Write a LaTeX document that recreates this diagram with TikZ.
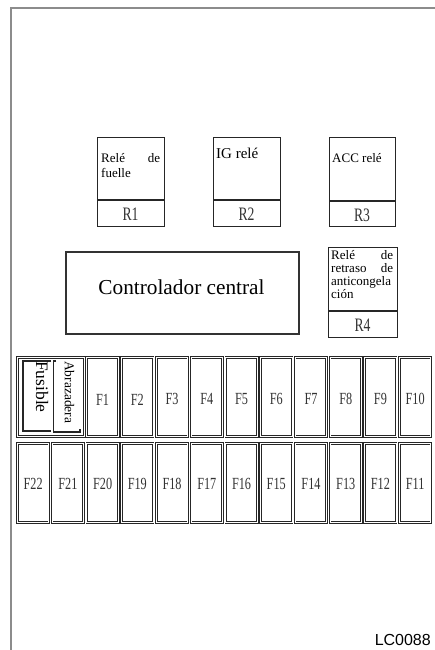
\documentclass[tikz,border=0pt]{standalone}
\usepackage{fontspec}
\usetikzlibrary{calc}
\setmainfont{Liberation Serif}
\newfontfamily\condfont[FakeStretch=0.72]{Liberation Serif}
\newfontfamily\lcfont{Liberation Sans}
\begin{document}
\begin{tikzpicture}[x=1pt,y=-1pt,
  frame/.style={draw=black!45,line width=2pt},
  relaybox/.style={draw=black!85,line width=1.4pt,rectangle,inner sep=0pt,anchor=north west},
  fusebox/.style={draw=black!85,line width=0.8pt,double=white,double distance=0.9pt,rectangle,inner sep=0pt,anchor=north west,minimum width=31.5pt,minimum height=79pt},
  rlabel/.style={font=\condfont\fontsize{19}{19}\selectfont,inner sep=0pt,text=black!80},
  flabel/.style={font=\condfont\fontsize{17}{17}\selectfont,inner sep=0pt,text=black!80},
  rtext/.style={font=\fontsize{13}{13}\selectfont,inner sep=0pt,anchor=base west},
  bracket/.style={draw=black!85,line width=1.1pt}]
\useasboundingbox (0,0) rectangle (435,650);
\fill[white] (0,0) rectangle (435,650);
% outer frame
\coordinate (ftr) at (435,8.5);
\coordinate (ftl) at (11,8.5);
\coordinate (fbl) at (11,650);
\draw[frame] (ftr) -- (ftl) -- (fbl);

% relays
\node[relaybox,minimum width=67pt,minimum height=89pt] (r1) at (97,137) {};
\node[relaybox,minimum width=67pt,minimum height=89pt] (r2) at (213,137) {};
\node[relaybox,minimum width=66pt,minimum height=89pt] (r3) at (329,137) {};
\node[relaybox,minimum width=69pt,minimum height=90pt] (r4) at (328,247) {};
\coordinate (d1a) at (97,200); \coordinate (d1b) at (164,200);
\coordinate (d2a) at (213,200); \coordinate (d2b) at (280,200);
\coordinate (d3a) at (329,201); \coordinate (d3b) at (395,201);
\coordinate (d4a) at (328,311); \coordinate (d4b) at (397,311);
\draw[black!85,line width=1.4pt] (d1a) -- (d1b);
\draw[black!85,line width=1.4pt] (d2a) -- (d2b);
\draw[black!85,line width=1.8pt] (d3a) -- (d3b);
\draw[black!85,line width=1.4pt] (d4a) -- (d4b);

\node[rlabel] (l1) at (130.5,214) {R1};
\node[rlabel] (l2) at (246.5,214) {R2};
\node[rlabel] (l3) at (362,215) {R3};
\node[rlabel] (l4) at (362.5,325) {R4};

\node[rtext] (t1a) at (101,162.3) {\makebox[59pt][s]{Relé de}};
\node[rtext] (t1b) at (101,177.7) {fuelle};
\node[rtext,font=\fontsize{15}{15}\selectfont] (t2) at (216,158) {IG relé};
\node[rtext] (t3) at (332,162) {ACC relé};
\node[rtext] (t4a) at (331,259) {\makebox[62pt][s]{Relé de}};
\node[rtext] (t4b) at (331,272) {\makebox[62pt][s]{retraso de}};
\node[rtext] (t4c) at (331,285.5) {\makebox[62pt][s]{anticongela}};
\node[rtext] (t4d) at (331,298) {ción};

% central controller
\node[relaybox,draw=black!80,line width=1.6pt,minimum width=233pt,minimum height=82pt] (cc) at (65,251) {};
\node[inner sep=0pt,font=\fontsize{21.3}{21.3}\selectfont] (cct) at (181.5,287) {Controlador central};

% fuse row 1
\node[fusebox,minimum width=67pt] (fus) at (17,357) {};
\foreach \i in {1,...,10}{
  \pgfmathsetmacro{\xx}{17+34.73*(\i+1)}
  \node[fusebox] (f\i) at (\xx,357) {};
  \node[flabel] (fl\i) at ($(f\i.center)+(0,2.5)$) {F\i};
}
% fuse row 2
\foreach \i in {11,...,22}{
  \pgfmathsetmacro{\xx}{17+34.73*(22-\i)}
  \node[fusebox] (f\i) at (\xx,443) {};
  \node[flabel] (fl\i) at ($(f\i.center)+(0,1)$) {F\i};
}

% Fusible / Abrazadera
\coordinate (b1a) at (51,361); \coordinate (b1b) at (23,361);
\coordinate (b1c) at (23,431); \coordinate (b1d) at (51,431);
\draw[bracket] (b1a) -- (b1b) -- (b1c) -- (b1d);
\coordinate (b2a) at (56,361); \coordinate (b2b) at (53.5,361);
\coordinate (b2c) at (53.5,432); \coordinate (b2d) at (80,432); \coordinate (b2e) at (80,429);
\draw[bracket] (b2a) -- (b2b) -- (b2c) -- (b2d) -- (b2e);
\node[inner sep=0pt,rotate=-90,anchor=west,font=\fontsize{17.5}{17.5}\selectfont] (fust) at (42,361) {Fusible};
\node[inner sep=0pt,rotate=-90,anchor=west,font=\fontsize{13.5}{13.5}\selectfont] (abrt) at (69.5,361) {Abrazadera};

% code
\node[inner sep=0pt,anchor=east,font=\lcfont\fontsize{16}{16}\selectfont] (code) at (431,640) {LC0088};
\end{tikzpicture}
\end{document}
